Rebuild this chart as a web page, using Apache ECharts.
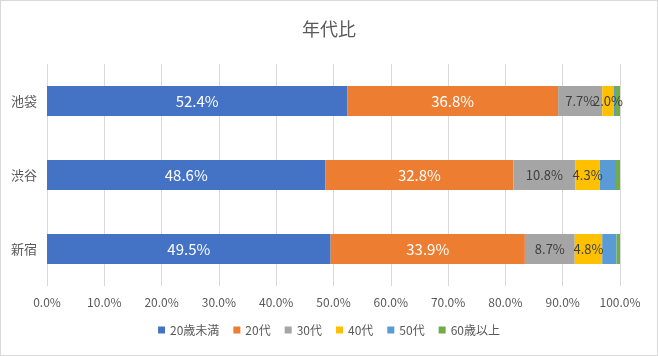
<!DOCTYPE html>
<html><head><meta charset="utf-8">
<script src="https://cdn.jsdelivr.net/npm/echarts@6/dist/echarts.min.js"></script>
<style>html,body{margin:0;padding:0;background:#fff}#c{width:656px;height:354px;border:1px solid #d9d9d9}</style>
</head><body><div id="c"></div>
<script>
const categories = ['池袋', '渋谷', '新宿'];
const seriesNames = ['20歳未満', '20代', '30代', '40代', '50代', '60歳以上'];
const under20 = [52.4, 48.6, 49.5];
const s20 = [36.8, 32.8, 33.9];
const s30 = [7.7, 10.8, 8.7];
const s40 = [2.0, 4.3, 4.8];
const s50 = [0.4, 2.8, 2.5];
const over60 = [0.7, 0.7, 0.6];
const xTicks = [0, 10, 20, 30, 40, 50, 60, 70, 80, 90, 100];
const colors = ['#4472C4', '#ED7D31', '#A5A5A5', '#FFC000', '#5B9BD5', '#70AD47'];
const allData = [under20, s20, s30, s40, s50, over60];
const font = "'Noto Sans CJK JP', 'Noto Sans', sans-serif";
const labelCfg = [
  {show: true, color: '#fff', fontSize: 15},
  {show: true, color: '#fff', fontSize: 15},
  {show: true, color: '#404040', fontSize: 13},
  {show: true, color: '#404040', fontSize: 13},
  {show: false},
  {show: false}
];
const chart = echarts.init(document.getElementById('c'), null, {renderer: 'canvas'});
chart.setOption({
  animation: false,
  textStyle: {fontFamily: font},
  title: {text: '年代比', left: 'center', top: 14, textStyle: {fontSize: 18, fontWeight: 'normal', color: '#595959', fontFamily: font}},
  grid: {left: 46, right: 37, top: 63, bottom: 69, containLabel: false},
  xAxis: {
    type: 'value', min: 0, max: 100, interval: 10,
    axisLine: {show: false}, axisTick: {show: false},
    splitLine: {lineStyle: {color: '#d9d9d9'}},
    axisLabel: {color: '#595959', fontSize: 12, margin: 10, formatter: v => v.toFixed(1) + '%'}
  },
  yAxis: {
    type: 'category', data: categories, inverse: true,
    axisLine: {show: false}, axisTick: {show: false},
    axisLabel: {color: '#595959', fontSize: 13, margin: 10}
  },
  legend: {
    bottom: 14, left: 'center', itemWidth: 7, itemHeight: 7, itemGap: 14,
    icon: 'rect', textStyle: {color: '#595959', fontSize: 12, fontFamily: font},
    data: seriesNames
  },
  series: allData.map((d, i) => ({
    name: seriesNames[i], type: 'bar', stack: 'total', barWidth: 30,
    itemStyle: {color: colors[i]},
    data: d,
    label: Object.assign({position: 'inside', fontFamily: font, formatter: p => p.value.toFixed(1) + '%'}, labelCfg[i])
  }))
});
</script></body></html>
